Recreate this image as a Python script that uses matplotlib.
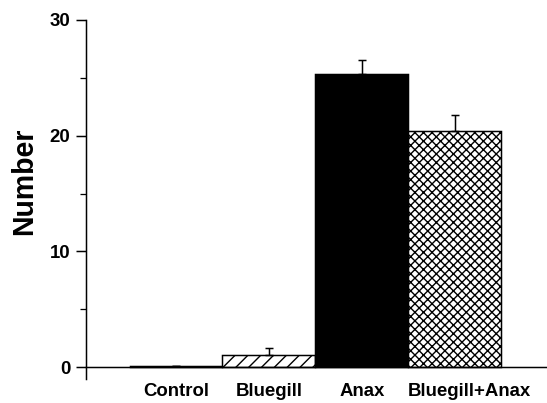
import matplotlib
matplotlib.use("Agg")
import matplotlib.pyplot as plt
import matplotlib.transforms as mtransforms

categories = ["Control", "Bluegill", "Anax", "Bluegill+Anax"]
means = [0.1, 1.05, 25.35, 20.4]
errors = [0.0, 0.6, 1.2, 1.4]
hatches = ["", "//", "", "xxx"]
fills = ["white", "white", "black", "white"]

DPI = 77
plt.rcParams['font.family'] = ['Liberation Sans', 'DejaVu Sans']
plt.rcParams['font.weight'] = 'bold'
plt.rcParams['hatch.linewidth'] = 1.3

fig = plt.figure(figsize=(547 / DPI, 403 / DPI), dpi=DPI)
ax = fig.add_axes([86 / 547, (403 - 378.6) / 403, (547 - 86) / 547, (378.6 - 20) / 403])

x = list(range(len(categories)))
bars = ax.bar(x, means, width=1.0, color=fills, edgecolor="black", linewidth=1.4)
for b, h in zip(bars, hatches):
    b.set_hatch(h)
ax.errorbar(x, means, yerr=[[0] * len(errors), errors], fmt="none", ecolor="black",
            elinewidth=1.4, capsize=4.2, capthick=1.4)

ax.set_xlim(-0.968, 3.99)
ax.set_ylim(-1, 30)
ax.spines['top'].set_visible(False)
ax.spines['right'].set_visible(False)
ax.spines['bottom'].set_position(('data', 0))
for s in ('left', 'bottom'):
    ax.spines[s].set_linewidth(1.4)

ax.set_yticks([0, 10, 20, 30])
ax.set_yticks([5, 15, 25], minor=True)
ax.tick_params(axis='y', which='major', length=9.5, width=1.4, pad=5, labelsize=17.4)
ax.tick_params(axis='y', which='minor', length=6, width=1.2)
ax.set_xticks(x)
ax.set_xticklabels(categories, fontsize=17.4, fontweight='bold')
ax.tick_params(axis='x', length=0, pad=15)
for lab in ax.get_yticklabels():
    lab.set_fontweight('bold')
lab = ax.get_xticklabels()[3]
lab.set_transform(lab.get_transform() + mtransforms.ScaledTranslation(14 / DPI, 0, fig.dpi_scale_trans))

fig.text(24 / 547, 1 - 181 / 403, "Number", rotation=90, fontsize=26.7, fontweight='bold',
         ha='center', va='center')

fig.savefig("out.png", dpi=DPI)
